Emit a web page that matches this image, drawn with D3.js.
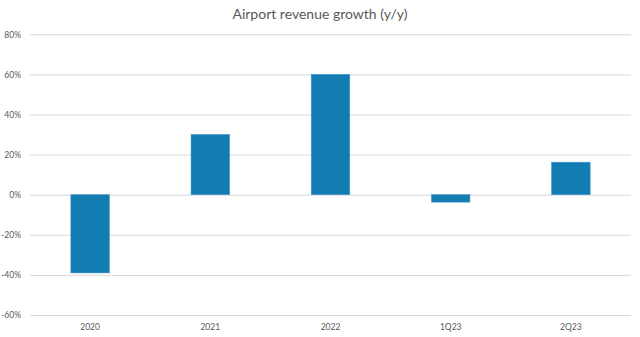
<!DOCTYPE html>
<html><head><meta charset="utf-8">
<script src="https://cdn.jsdelivr.net/npm/d3@7"></script>
<style>body{margin:0;background:#fff}svg{display:block}</style>
</head><body>
<script>
const categories = ["2020", "2021", "2022", "1Q23", "2Q23"];
const growth = [-39, 30, 60, -3.7, 16.2];
const yTicks = [-60, -40, -20, 0, 20, 40, 60, 80];

const W = 640, H = 337;
const m = {left: 30, right: 9, top: 34.3, bottom: 22};
const svg = d3.select("body").append("svg").attr("width", W).attr("height", H);
const x = d3.scaleBand().domain(categories).range([m.left, W - m.right]).paddingInner(0.68).paddingOuter(0.34);
const y = d3.scaleLinear().domain([-60, 80]).range([H - m.bottom, m.top]);
const font = "Lato, 'Open Sans', sans-serif";

svg.append("text").attr("x", 320).attr("y", 19).attr("text-anchor", "middle")
  .attr("font-family", font).attr("font-size", 14).attr("fill", "#595959")
  .text("Airport revenue growth (y/y)");

const yAxis = svg.append("g").attr("transform", `translate(${m.left},0)`)
  .call(d3.axisLeft(y).tickValues(yTicks).tickFormat(d => d + "%").tickSize(-(W - m.left - m.right)).tickPadding(9));
yAxis.select(".domain").remove();
yAxis.selectAll("line").attr("stroke", "#d9d9d9");
yAxis.selectAll("text").attr("font-family", font).attr("font-size", 8.5).attr("fill", "#595959");

svg.append("g").selectAll("rect").data(categories).join("rect")
  .attr("x", d => x(d))
  .attr("width", x.bandwidth())
  .attr("y", (d, i) => y(Math.max(0, growth[i])))
  .attr("height", (d, i) => Math.abs(y(growth[i]) - y(0)))
  .attr("fill", "#137cb3").attr("stroke", "#3a92c4").attr("stroke-width", 0.6);

const xAxis = svg.append("g").attr("transform", `translate(0,${y(-60)})`)
  .call(d3.axisBottom(x).tickSize(0).tickPadding(9));
xAxis.select(".domain").remove();
xAxis.selectAll("text").attr("font-family", font).attr("font-size", 8.5).attr("fill", "#595959");
</script>
</body></html>
